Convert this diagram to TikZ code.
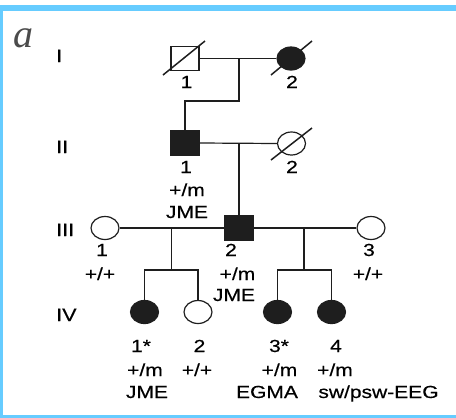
\documentclass[tikz,border=0pt]{standalone}
\usepackage{fontspec}
\setmainfont[FakeStretch=1.2,FakeBold=0.4]{Liberation Sans}
\newfontfamily\serifit[Scale=1]{Liberation Serif}
\usetikzlibrary{shapes.geometric,calc}
\definecolor{frameblue}{RGB}{102,204,255}
\definecolor{ink}{RGB}{30,30,30}
\tikzset{
  male/.style={draw=ink,rectangle,minimum width=28pt,minimum height=24pt,inner sep=0pt,line width=1.2pt},
  female/.style={draw=ink,ellipse,minimum width=28pt,minimum height=23pt,inner sep=0pt,line width=1.2pt},
  aff/.style={fill=ink},
  lab/.style={anchor=base,inner sep=0pt,font=\fontsize{17.5}{20}\selectfont,text=black},
  gen/.style={anchor=base west,inner sep=0pt,font=\fontsize{18}{20}\selectfont,text=black},
  con/.style={draw=ink,line width=1.2pt},
  dead/.style={draw=ink,line width=1.5pt}
}
\begin{document}
\begin{tikzpicture}[x=1pt,y=-1pt]
\useasboundingbox (0,0) rectangle (456,418);
\fill[white] (0,0) rectangle (456,418);
% frame
\fill[frameblue] (0,5) rectangle (456,11);
\fill[frameblue] (0,5) rectangle (3,418);
\fill[frameblue] (0,415) rectangle (456,418);
% panel letter
\node[anchor=base west,inner sep=0pt,font=\serifit\fontsize{40}{40}\selectfont\itshape,text=ink!80] (pa) at (13,47) {a};
% generation numerals
\node[gen] (gI) at (56,62) {I};
\node[gen] (gII) at (56,153) {II};
\node[gen] (gIII) at (56,236) {III};
\node[gen] (gIV) at (56,321) {IV};
% individuals
\node[male] (I1) at (185,58.5) {};
\node[female,aff] (I2) at (291,58.5) {};
\node[male,aff] (II1) at (185,143) {};
\node[female] (II2) at (291.5,143.5) {};
\node[female] (III1) at (105,228) {};
\node[male,aff] (III2) at (239,228) {};
\node[female] (III3) at (371,228) {};
\node[female,aff] (IV1) at (144.5,312) {};
\node[female] (IV2) at (198,312) {};
\node[female,aff] (IV3) at (277.5,312) {};
\node[female,aff] (IV4) at (331.5,312) {};
% deceased slashes
\draw[dead] ($(I1)+(-22,16.5)$) -- ($(I1)+(20,-17.5)$);
\draw[dead] ($(I2)+(-20,16.5)$) -- ($(I2)+(21,-17.5)$);
\draw[dead] ($(II2)+(-20.5,16.5)$) -- ($(II2)+(20.5,-15.5)$);
% generation I
\draw[con] (I1.east) -- (I2.west);
\coordinate (m1) at (239,58.5);
\coordinate (k1) at (239,101);
\draw[con] (m1) -- (k1) -| (II1.north);
% generation II
\draw[con] (II1.east) -- (II2.west);
\coordinate (m2) at (239,143);
\draw[con] (m2) -- (III2.north);
% generation III
\draw[con] (III1.east) -- (III2.west);
\draw[con] (III2.east) -- (III3.west);
\coordinate (m3) at (171.7,228);
\coordinate (s1) at (171.7,270);
\draw[con] (m3) -- (s1);
\draw[con] (IV1.north) -- (IV1.north |- s1) -- (IV2.north |- s1) -- (IV2.north);
\coordinate (m4) at (304,228);
\coordinate (s2) at (304,270);
\draw[con] (m4) -- (s2);
\draw[con] (IV3.north) -- (IV3.north |- s2) -- (IV4.north |- s2) -- (IV4.north);
% labels gen I
\node[lab] (lI1) at (186.5,88) {1};
\node[lab] (lI2) at (292,88) {2};
% labels gen II
\node[lab] (lII1a) at (186,173) {1};
\node[lab] (lII1b) at (187,196) {+/m};
\node[lab] (lII1c) at (187,218) {JME};
\node[lab] (lII2) at (292,173) {2};
% labels gen III
\node[lab] (lIII1a) at (102,256) {1};
\node[lab] (lIII1b) at (100,280) {+/+};
\node[lab] (lIII2a) at (231,256) {2};
\node[lab] (lIII2b) at (237.5,280) {+/m};
\node[lab] (lIII2c) at (234,301) {JME};
\node[lab] (lIII3a) at (369,256) {3};
\node[lab] (lIII3b) at (368,280) {+/+};
% labels gen IV
\node[lab] (lIV1a) at (141,352) {1*};
\node[lab] (lIV1b) at (145,376) {+/m};
\node[lab] (lIV1c) at (147,398) {JME};
\node[lab] (lIV2a) at (199.5,352) {2};
\node[lab] (lIV2b) at (197,376) {+/+};
\node[lab] (lIV3a) at (279,352) {3*};
\node[lab] (lIV3b) at (279.5,376) {+/m};
\node[lab] (lIV3c) at (267,398) {EGMA};
\node[lab] (lIV4a) at (336,352) {4};
\node[lab] (lIV4b) at (335,376) {+/m};
\node[lab] (lIV4c) at (378.5,398) {sw/psw-EEG};
\end{tikzpicture}
\end{document}
